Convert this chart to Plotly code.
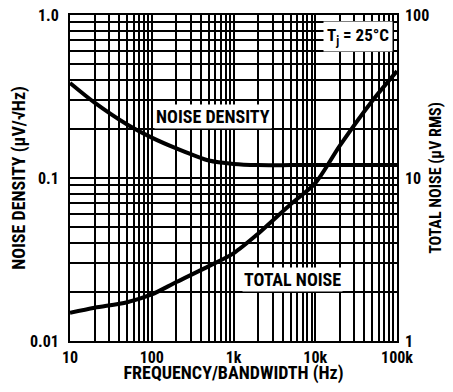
import plotly.graph_objects as go

freq = [10, 20, 50, 100, 200, 500, 1000, 2000, 5000, 10000, 20000, 50000, 100000]
noise_density = [0.383, 0.29, 0.213, 0.177, 0.152, 0.128, 0.122, 0.12, 0.12, 0.12, 0.12, 0.12, 0.12]
total_noise = [1.49, 1.6, 1.73, 1.93, 2.3, 2.88, 3.45, 4.55, 6.9, 9.3, 15.8, 29.8, 45.3]

x_decades = [10, 100, 1000, 10000, 100000]
x_labels = ["10", "100", "1k", "10k", "100k"]
y_decades = [0.01, 0.1, 1.0]
y_labels = ["0.01", "0.1", "1.0"]
y2_decades = [1, 10, 100]
y2_labels = ["1", "10", "100"]

FONT = "Liberation Sans Narrow, Arial Narrow, Roboto Condensed, sans-serif"


def log_grid(decades):
    vals = []
    for d in decades[:-1]:
        for m in range(1, 10):
            vals.append(d * m)
    vals.append(decades[-1])
    return vals


def grid_text(vals, decades, labels):
    out = []
    for v in vals:
        lab = ""
        for d, l in zip(decades, labels):
            if abs(v - d) < 1e-9 * max(1, d):
                lab = "<b>%s</b>" % l
        out.append(lab)
    return out


xv = log_grid(x_decades)
yv = log_grid(y_decades)
y2v = log_grid(y2_decades)

fig = go.Figure()
fig.add_trace(go.Scatter(x=freq, y=noise_density, mode="lines",
                         line=dict(color="black", width=4, shape="spline", smoothing=0.8),
                         showlegend=False))
fig.add_trace(go.Scatter(x=freq, y=total_noise, mode="lines", yaxis="y2",
                         line=dict(color="black", width=4, shape="spline", smoothing=0.8),
                         showlegend=False))

# page body has an 8px margin on every side, so the figure is sized to fit inside it
fig.update_layout(
    width=437, height=376,
    margin=dict(l=62, r=48, t=7, b=43),
    paper_bgcolor="white", plot_bgcolor="white",
    font=dict(family=FONT, color="black", size=16),
    xaxis=dict(type="log", range=[1, 5], tickvals=xv, ticktext=grid_text(xv, x_decades, x_labels),
               showgrid=True, gridcolor="black", gridwidth=1.5, automargin=False,
               showline=True, linecolor="black", linewidth=2, mirror=True,
               ticks="", tickfont=dict(size=16, family=FONT), ticklabelstandoff=1,
               ticklabeloverflow="allow",
               title=dict(text="<b>FREQUENCY/BANDWIDTH (Hz)</b>", font=dict(size=18), standoff=0),
               zeroline=False),
    yaxis=dict(type="log", range=[-2, 0], tickvals=yv, ticktext=grid_text(yv, y_decades, y_labels),
               showgrid=True, gridcolor="black", gridwidth=1.5, automargin=False,
               showline=True, linecolor="black", linewidth=2, mirror=True,
               ticks="", tickfont=dict(size=16, family=FONT), ticklabelstandoff=6,
               ticklabeloverflow="allow",
               title=dict(text="<b>NOISE DENSITY (µV/√Hz)</b>", font=dict(size=18), standoff=4),
               zeroline=False),
    yaxis2=dict(type="log", range=[0, 2], overlaying="y", side="right", automargin=False,
                tickvals=y2v, ticktext=grid_text(y2v, y2_decades, y2_labels),
                showgrid=False, ticks="", tickfont=dict(size=16, family=FONT), ticklabelstandoff=7,
                ticklabeloverflow="allow",
                title=dict(text="<b>TOTAL NOISE (µV RMS)</b>", font=dict(size=16), standoff=6),
                zeroline=False),
)

fig.add_annotation(x=2.744, y=-0.62, xref="x", yref="y", text="<b>NOISE DENSITY</b>",
                   showarrow=False, bgcolor="white", font=dict(size=18), borderpad=1)
fig.add_annotation(x=3.72, y=-1.62, xref="x", yref="y", text="<b>TOTAL NOISE</b>",
                   showarrow=False, bgcolor="white", font=dict(size=18), borderpad=1)
fig.add_annotation(x=4.52, y=-0.13, xref="x", yref="y", text="<b>T<sub>j</sub> = 25°C</b>",
                   showarrow=False, bgcolor="white", font=dict(size=17), borderpad=3)

fig.write_html("out.html")
